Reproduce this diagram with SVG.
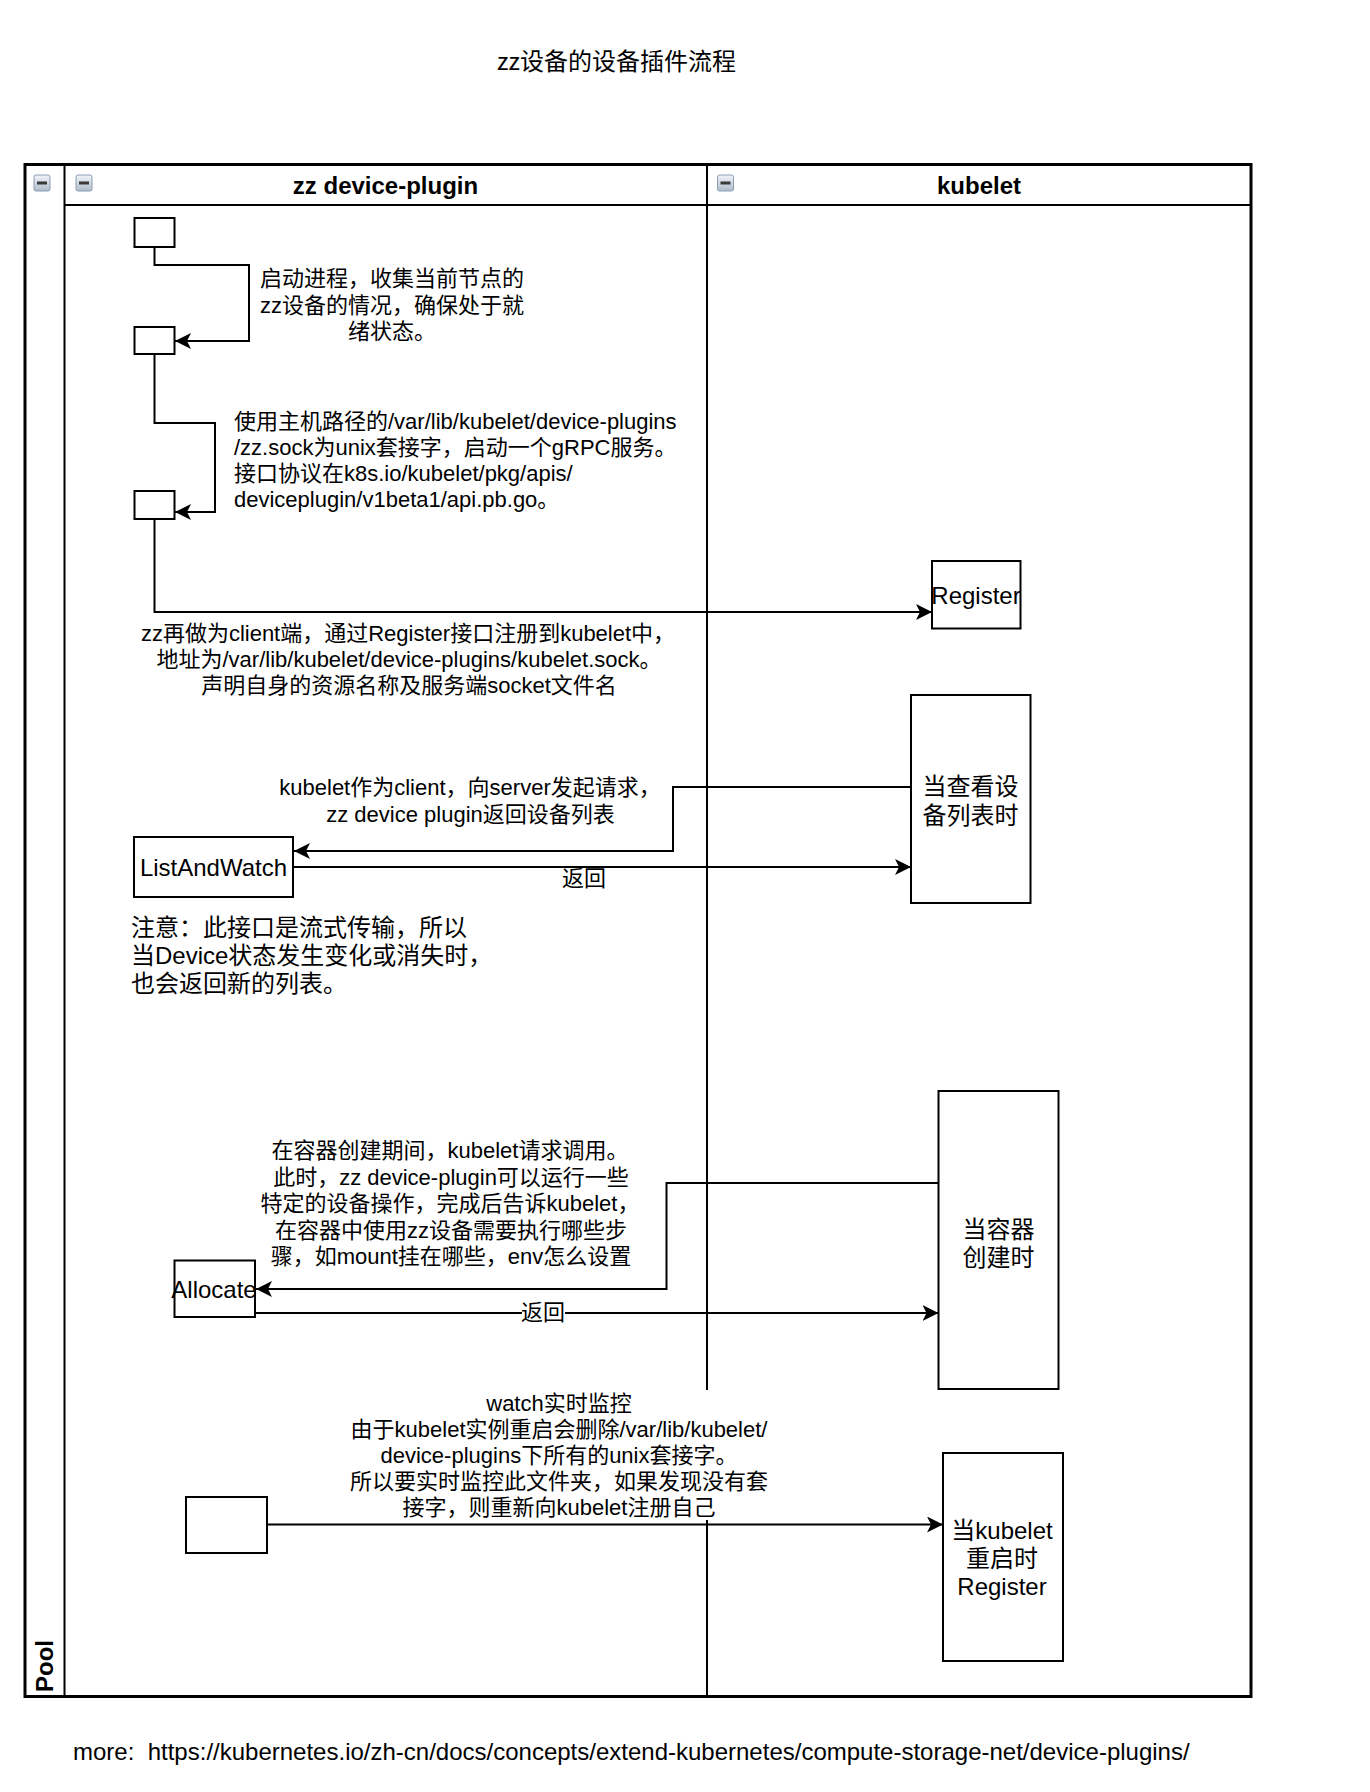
<svg xmlns="http://www.w3.org/2000/svg" width="1370" height="1792" viewBox="0 0 1370 1792">
<style>
text{font-family:"Liberation Sans","Noto Sans CJK SC",sans-serif;fill:#000;}
.lbl{font-size:22px;}
.big{font-size:24px;}
.hdr{font-size:24px;font-weight:bold;}
.mid{text-anchor:middle;}
.box{fill:#fff;stroke:#000;stroke-width:2;}
.ln{fill:none;stroke:#000;stroke-width:2;}
.con{fill:none;stroke:#000;stroke-width:2;marker-end:url(#arr);}
</style>
<defs>
<marker id="arr" markerUnits="userSpaceOnUse" markerWidth="18" markerHeight="18" refX="16" refY="8" orient="auto">
<path d="M0,0 L16,8 L0,16 L4,8 Z" fill="#000"/>
</marker>
<linearGradient id="ig" x1="0" y1="0" x2="0" y2="1">
<stop offset="0" stop-color="#f2f5f9"/>
<stop offset="1" stop-color="#aebbcc"/>
</linearGradient>
<g id="fold">
<rect x="0.5" y="0.5" width="16" height="16" rx="2" fill="url(#ig)" stroke="#8c9cb2" stroke-width="1"/>
<rect x="3.5" y="7" width="10" height="3" fill="#3a3a3a"/>
</g>
</defs>
<rect width="1370" height="1792" fill="#fff"/>
<text x="616.5" y="70" class="mid" style="font-family:'Noto Sans CJK SC','Liberation Sans',sans-serif;font-size:24px;">zz设备的设备插件流程</text>

<g id="pool">
<rect x="25" y="164.5" width="1226" height="1532" fill="#fff" stroke="#000" stroke-width="3"/>
<line x1="64.5" y1="164.5" x2="64.5" y2="1696.5" class="ln"/>
<line x1="707" y1="164.5" x2="707" y2="1696.5" class="ln"/>
<line x1="64.5" y1="205" x2="1251" y2="205" class="ln"/>
<use href="#fold" x="33.5" y="174.5"/>
<use href="#fold" x="75.5" y="174.5"/>
<use href="#fold" x="717" y="174.5"/>
<text transform="translate(52.5,1666) rotate(-90)" class="hdr mid">Pool</text>
<text x="385.5" y="194" class="hdr mid">zz device-plugin</text>
<text x="979" y="194" class="hdr mid">kubelet</text>
</g>

<g id="n-start"><rect x="134.5" y="218" width="40" height="29" class="box"/></g>
<g id="n-step2"><rect x="134.5" y="327" width="40" height="27" class="box"/></g>
<g id="n-step3"><rect x="134.5" y="491" width="40" height="28" class="box"/></g>
<g id="n-register"><rect x="932" y="561" width="88.5" height="67.5" class="box"/><text x="976" y="603.5" class="big mid">Register</text></g>
<g id="n-list-time"><rect x="911" y="695" width="119.5" height="208" class="box"/><text x="970.5" y="795" class="big mid">当查看设</text><text x="970.5" y="823.5" class="big mid">备列表时</text></g>
<g id="n-listandwatch"><rect x="134" y="837" width="159" height="60" class="box"/><text x="213.5" y="875.5" class="big mid">ListAndWatch</text></g>
<g id="n-create-time"><rect x="938.5" y="1091" width="120" height="298" class="box"/><text x="998.5" y="1237.5" class="big mid">当容器</text><text x="998.5" y="1265.5" class="big mid">创建时</text></g>
<g id="n-allocate"><rect x="174.5" y="1260.5" width="80.5" height="56.5" class="box"/><text x="214" y="1297.5" class="big mid">Allocate</text></g>
<g id="n-watch"><rect x="186" y="1497" width="81" height="56" class="box"/></g>
<g id="n-restart"><rect x="943" y="1453" width="120" height="208" class="box"/><text x="1002" y="1538.5" class="big mid">当kubelet</text><text x="1002" y="1566.5" class="big mid">重启时</text><text x="1002" y="1594.5" class="big mid">Register</text></g>

<g id="connectors">
<path d="M154.5,247 V265 H249 V341 H175" class="con"/>
<path d="M154.5,354 V423 H215 V512 H175" class="con"/>
<path d="M154.5,519 V612 H932" class="con"/>
<path d="M911,787 H673 V851 H294" class="con"/>
<path d="M293,867 H911" class="con"/>
<path d="M938.5,1183 H666.5 V1289 H256" class="con"/>
<path d="M255,1313 H938.5" class="con"/>
<path d="M267,1524.5 H943" class="con"/>
</g>

<g id="labels">
<text class="lbl mid"><tspan x="392" y="286">启动进程，收集当前节点的</tspan><tspan x="392" y="312.5">zz设备的情况，确保处于就</tspan><tspan x="392" y="339">绪状态。</tspan></text>
<text class="lbl"><tspan x="234" y="429">使用主机路径的/var/lib/kubelet/device-plugins</tspan><tspan x="234" y="455">/zz.sock为unix套接字，启动一个gRPC服务。</tspan><tspan x="234" y="481">接口协议在k8s.io/kubelet/pkg/apis/</tspan><tspan x="234" y="507">deviceplugin/v1beta1/api.pb.go。</tspan></text>
<text class="lbl mid"><tspan x="408" y="641">zz再做为client端，通过Register接口注册到kubelet中，</tspan><tspan x="409" y="667">地址为/var/lib/kubelet/device-plugins/kubelet.sock。</tspan><tspan x="409" y="693">声明自身的资源名称及服务端socket文件名</tspan></text>
<text class="lbl mid"><tspan x="470" y="795">kubelet作为client，向server发起请求，</tspan><tspan x="470.5" y="821.5">zz device plugin返回设备列表</tspan></text>
<text x="584" y="886" class="lbl mid">返回</text>
<text class="big"><tspan x="131" y="936">注意：此接口是流式传输，所以</tspan><tspan x="131" y="964">当Device状态发生变化或消失时，</tspan><tspan x="131" y="992">也会返回新的列表。</tspan></text>
<text class="lbl mid"><tspan x="450" y="1158">在容器创建期间，kubelet请求调用。</tspan><tspan x="451" y="1184.5">此时，zz device-plugin可以运行一些</tspan><tspan x="450" y="1211">特定的设备操作，完成后告诉kubelet，</tspan><tspan x="451" y="1237.5">在容器中使用zz设备需要执行哪些步</tspan><tspan x="451" y="1263.5">骤，如mount挂在哪些，env怎么设置</tspan></text>
<rect x="522" y="1300" width="43" height="26" fill="#fff"/>
<text x="543" y="1320" class="lbl mid">返回</text>
<rect x="346" y="1390" width="426" height="130" fill="#fff"/>
<text class="lbl mid"><tspan x="559" y="1410.5">watch实时监控</tspan><tspan x="559" y="1436.5">由于kubelet实例重启会删除/var/lib/kubelet/</tspan><tspan x="559" y="1462.5">device-plugins下所有的unix套接字。</tspan><tspan x="559" y="1488.5">所以要实时监控此文件夹，如果发现没有套</tspan><tspan x="559" y="1514.5">接字，则重新向kubelet注册自己</tspan></text>
<text x="73" y="1760" class="big" xml:space="preserve" style="white-space:pre">more:  https://kubernetes.io/zh-cn/docs/concepts/extend-kubernetes/compute-storage-net/device-plugins/</text>
</g>
</svg>
